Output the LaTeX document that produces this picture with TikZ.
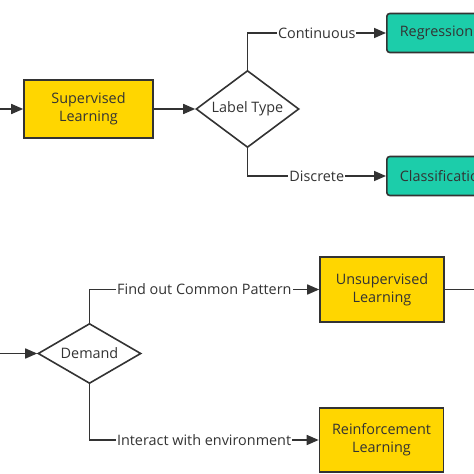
\documentclass[tikz,border=0pt]{standalone}
\usepackage{fontspec}
\setmainfont{Open Sans}
\usetikzlibrary{shapes.geometric,arrows.meta}
\definecolor{linegray}{HTML}{333333}
\definecolor{boxgold}{HTML}{FFD600}
\definecolor{boxteal}{HTML}{1CCDAA}

\begin{document}
\begin{tikzpicture}[x=1pt,y=-1pt,
  font=\fontsize{14.4}{18}\selectfont, text=linegray,
  flow/.style={draw=linegray,line width=1.6pt,-{Triangle[length=12pt,width=10pt]}},
  learnbox/.style={draw=linegray,line width=1.6pt,fill=boxgold,align=center,inner sep=0pt},
  resultbox/.style={draw=linegray,line width=1.6pt,fill=boxteal,rounded corners=3pt,
    anchor=west,minimum height=39pt,inner xsep=13pt,align=left},
  decision/.style={diamond,shape aspect=1.7,draw=linegray,line width=1.6pt,inner sep=0pt},
  edgelabel/.style={fill=white,inner xsep=1pt,inner ysep=2pt,pos=0.75}]
\useasboundingbox (0,0) rectangle (474,474);
\clip (0,0) rectangle (474,474);

% upper branch
\coordinate (inTop) at (0,109);
\node[learnbox,minimum width=129pt,minimum height=58pt] (sup) at (88.5,109) {Supervised\\Learning};
\node[decision,minimum width=103pt,minimum height=77pt] (label) at (247.5,109) {Label Type};
\node[resultbox] (reg) at (386,33) {Regression};
\node[resultbox] (cls) at (386,176) {Classification};

\draw[flow] (inTop) -- (sup.west);
\draw[flow] (sup) -- (label);
\draw[flow] (label.north) |- node[edgelabel]{Continuous} (reg.west);
\draw[flow] (label.south) |- node[edgelabel]{Discrete} (cls.west);

% lower branch
\coordinate (inBot) at (0,353.5);
\coordinate (outRight) at (474,289.5);
\node[decision,minimum width=103pt,minimum height=60pt] (demand) at (89.5,353.5) {Demand};
\node[learnbox,minimum width=124pt,minimum height=65pt] (unsup) at (382,289.5) {Unsupervised\\Learning};
\node[learnbox,minimum width=124pt,minimum height=64pt] (rein) at (381.5,440) {Reinforcement\\Learning};

\draw[flow] (inBot) -- (demand.west);
\draw[flow] (demand.north) |- node[edgelabel]{Find out Common Pattern} (unsup.west);
\draw[flow] (demand.south) |- node[edgelabel]{Interact with environment} (rein.west);
\draw[flow,-] (unsup.east) -- (outRight);
\end{tikzpicture}
\end{document}
